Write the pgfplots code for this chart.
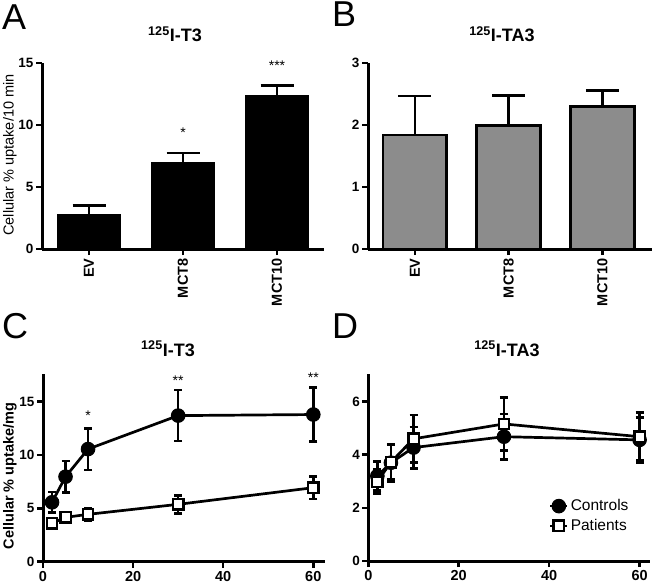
\documentclass[border=0pt]{standalone}
\usepackage{pgfplots}
\pgfplotsset{compat=1.18}
\usepackage{fontspec}
\setmainfont{Liberation Sans}
\definecolor{bargrey}{HTML}{8C8C8C}

\pgfplotsset{
  panel/.style={
    scale only axis,
    anchor=south west,
    axis lines=left,
    axis line style={line width=3pt, -},
    tick align=outside,
    major tick length=6pt,
    tick style={line width=2.6pt, black},
    ymin=0,
    ticklabel style={font=\fontsize{13.5}{15}\selectfont\bfseries},
    yticklabel style={xshift=1pt},
    /pgf/number format/assume math mode=true,
    clip=false,
  },
  barpanel/.style={
    panel,
    xmin=-0.5,
    xtick={0,1,2},
    xticklabels={EV,MCT8,MCT10},
    xticklabel style={rotate=90, anchor=east, font=\fontsize{14.5}{16}\selectfont\bfseries},
  },
  linepanel/.style={
    panel,
    xmin=0,
    xtick={0,20,40,60},
    xticklabel style={font=\fontsize{14.5}{16}\selectfont\bfseries},
  },
  barerr/.style={
    error bars/.cd, y dir=plus, y explicit,
    error bar style={line width=2.7pt, black},
    error mark options={rotate=90, mark size=16.5pt, line width=2.7pt, black},
  },
  lineerr/.style={
    error bars/.cd, y dir=both, y explicit,
    error bar style={line width=2.6pt, black},
    error mark options={rotate=90, mark size=4pt, line width=2.6pt, black},
  },
  ctrl/.style={black, line width=2.7pt, mark=*, mark size=6.8pt, mark options={fill=black, line width=1pt}},
  pat/.style={black, line width=2.7pt, mark=square*, mark size=5.2pt, mark options={fill=white, line width=2.4pt}},
}

\begin{document}
\begin{tikzpicture}
\useasboundingbox (0pt,0pt) rectangle (652pt,587pt);

% panel letters
\node[anchor=base west, inner sep=0, font=\fontsize{36}{40}\selectfont] at (2pt,557pt) {A};
\node[anchor=base west, inner sep=0, font=\fontsize{36}{40}\selectfont] at (332pt,560pt) {B};
\node[anchor=base west, inner sep=0, font=\fontsize{36}{40}\selectfont] at (2pt,249pt) {C};
\node[anchor=base west, inner sep=0, font=\fontsize{36}{40}\selectfont] at (332pt,249pt) {D};

% titles
\node[anchor=base, inner sep=0, font=\fontsize{18}{20}\selectfont\bfseries] at (175pt,545pt) {\textsuperscript{125}I-T3};
\node[anchor=base, inner sep=0, font=\fontsize{18}{20}\selectfont\bfseries] at (502pt,545pt) {\textsuperscript{125}I-TA3};
\node[anchor=base, inner sep=0, font=\fontsize{18}{20}\selectfont\bfseries] at (168pt,231pt) {\textsuperscript{125}I-T3};
\node[anchor=base, inner sep=0, font=\fontsize{18}{20}\selectfont\bfseries] at (507pt,231pt) {\textsuperscript{125}I-TA3};

% y labels
\node[rotate=90, inner sep=0, font=\fontsize{14.5}{16}\selectfont] at (10pt,432pt) {Cellular \% uptake/10 min};
\node[rotate=90, inner sep=0, font=\fontsize{14.5}{16}\selectfont\bfseries] at (10pt,111pt) {Cellular \% uptake/mg};

% A
\begin{axis}[barpanel, at={(42pt,338pt)}, width=282pt, height=186pt, xmax=2.5, ymax=15,
  ytick={0,5,10,15}]
\addplot[ybar, bar width=0.68, fill=black, draw=black, line width=1pt, barerr]
  coordinates {(0,2.8) +- (0,0.7) (1,7.0) +- (0,0.75) (2,12.4) +- (0,0.8)};
\node[font=\fontsize{14}{15}\selectfont] at (axis cs:1,9.4) {*};
\node[font=\fontsize{14}{15}\selectfont] at (axis cs:2,14.8) {***};
\end{axis}

% B
\begin{axis}[barpanel, at={(368pt,338pt)}, width=284pt, height=186pt, xmax=2.53, ymax=3,
  ytick={0,1,2,3}]
\addplot[ybar, bar width=0.68, fill=bargrey, draw=black, line width=2.8pt, barerr]
  coordinates {(0,1.84) +- (0,0.63) (1,1.99) +- (0,0.49) (2,2.30) +- (0,0.26)};
\end{axis}

% C
\begin{axis}[linepanel, at={(43pt,25.3pt)}, width=282pt, height=187.7pt, xmax=62.6, ymax=17.6,
  ytick={0,5,10,15}]
\addplot[pat, lineerr] coordinates {
  (2,3.6) +- (0,0.35) (5,4.16) +- (0,0.4) (10,4.44) +- (0,0.55) (30,5.38) +- (0,0.85) (60,6.94) +- (0,1.05)};
\addplot[ctrl, lineerr] coordinates {
  (2,5.57) +- (0,0.95) (5,7.97) +- (0,1.47) (10,10.56) +- (0,1.95) (30,13.7) +- (0,2.4) (60,13.8) +- (0,2.55)};
\node[font=\fontsize{14}{15}\selectfont] at (axis cs:10,13.7) {*};
\node[font=\fontsize{14}{15}\selectfont] at (axis cs:30,17.0) {**};
\node[font=\fontsize{14}{15}\selectfont] at (axis cs:60,17.3) {**};
\end{axis}

% D
\begin{axis}[linepanel, at={(368.3pt,26pt)}, width=281.7pt, height=187pt, xmax=62.3, ymax=7.04,
  ytick={0,2,4,6},
  legend style={at={(rel axis cs:0.63,0.35)}, anchor=north west, draw=none, fill=none,
    font=\fontsize{15.5}{17}\selectfont, row sep=3pt},
  legend cell align=left]
\addplot[ctrl, lineerr] coordinates {
  (2,3.2) +- (0,0.55) (5,3.7) +- (0,0.7) (10,4.27) +- (0,0.78) (30,4.68) +- (0,0.85) (60,4.56) +- (0,0.85)};
\addlegendentry{Controls}
\addplot[pat, lineerr] coordinates {
  (2,2.99) +- (0,0.45) (5,3.72) +- (0,0.65) (10,4.6) +- (0,0.9) (30,5.16) +- (0,1.0) (60,4.68) +- (0,0.9)};
\addlegendentry{Patients}
\end{axis}
\end{tikzpicture}
\end{document}
